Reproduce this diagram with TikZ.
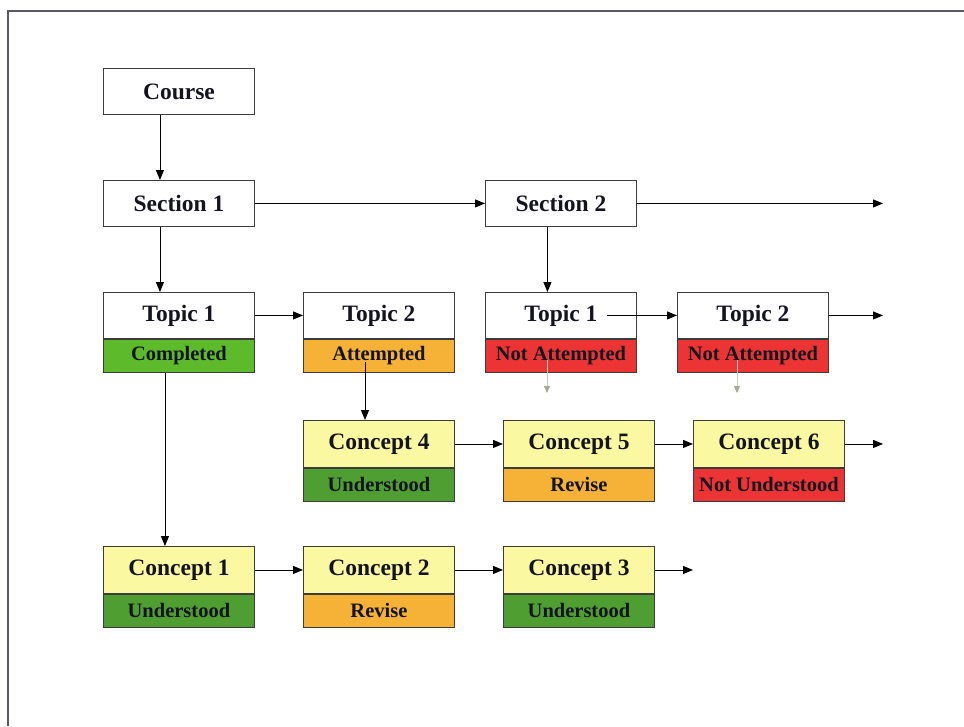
\documentclass[tikz,border=0pt]{standalone}
\usepackage{fontspec}
\setmainfont{Liberation Serif}
\usetikzlibrary{arrows.meta,positioning}
\definecolor{ink}{HTML}{141420}
\definecolor{framegray}{HTML}{5A5A60}
\definecolor{boxline}{HTML}{3C3C3C}
\definecolor{pale}{HTML}{FAF8A0}
\definecolor{okgreen}{HTML}{5DBA2A}
\definecolor{deepgreen}{HTML}{4E9E32}
\definecolor{amber}{HTML}{F5B236}
\definecolor{alert}{HTML}{EC3434}
\definecolor{faint}{HTML}{A4AA96}
\tikzset{
  head/.style={draw=boxline, line width=0.9pt, rectangle, inner sep=0pt,
    minimum width=151pt, minimum height=46pt, anchor=north west,
    font=\fontsize{23.5}{25}\selectfont\bfseries, text=ink},
  concepthead/.style={head, fill=pale, minimum height=47pt},
  status/.style={draw=boxline, line width=0.9pt, rectangle, inner sep=0pt,
    minimum width=151pt, minimum height=33pt, anchor=north west,
    font=\fontsize{20.5}{22}\selectfont\bfseries, text=ink},
  link/.style={draw=black, line width=0.9pt, -{Triangle[length=10pt,width=8pt]}},
  hint/.style={draw=faint!60, line width=0.8pt, -{Triangle[length=7pt,width=6pt,color=faint]}}
}
\begin{document}
\begin{tikzpicture}[x=1pt,y=-1pt]
\useasboundingbox (0,0) rectangle (964,726);
% page frame edges
\draw[framegray, line width=1.6pt] (8,726) -- (8,11) -- (964,11);

% course and sections
\node[head] (course) at (103,68) {Course};
\node[head] (sec1) at (103,180) {Section 1};
\node[head] (sec2) at (485,180) {Section 2};

% topics
\node[head] (t11) at (103,292) {Topic 1};
\node[status, fill=okgreen] (s11) at (t11.south west) {Completed};
\node[head] (t12) at (303,292) {Topic 2};
\node[status, fill=amber] (s12) at (t12.south west) {Attempted};
\node[head] (t21) at (485,292) {Topic 1};
\node[status, fill=alert] (s21) at (t21.south west) {Not Attempted};
\node[head] (t22) at (677,292) {Topic 2};
\node[status, fill=alert] (s22) at (t22.south west) {Not Attempted};

% concepts under topic 2
\node[concepthead] (c4) at (303,420) {Concept 4};
\node[status, fill=deepgreen] (u4) at (c4.south west) {Understood};
\node[concepthead] (c5) at (503,420) {Concept 5};
\node[status, fill=amber] (u5) at (c5.south west) {Revise};
\node[concepthead] (c6) at (693,420) {Concept 6};
\node[status, fill=alert] (u6) at (c6.south west) {Not Understood};

% concepts under topic 1
\node[concepthead] (c1) at (103,546) {Concept 1};
\node[status, fill=deepgreen] (u1) at (c1.south west) {Understood};
\node[concepthead] (c2) at (303,546) {Concept 2};
\node[status, fill=amber] (u2) at (c2.south west) {Revise};
\node[concepthead] (c3) at (503,546) {Concept 3};
\node[status, fill=deepgreen] (u3) at (c3.south west) {Understood};

% open ends (only x matters, rows stay horizontal)
\coordinate (farright) at (883,0);
\coordinate (midright) at (693,0);
\coordinate (t21out) at (607,0);
\coordinate (s12out) at (365,362);
\coordinate (s21out) at (547,360);
\coordinate (s21end) at (547,393);
\coordinate (s22out) at (737,360);
\coordinate (s22end) at (737,393);

% connectors
\draw[link] ([xshift=-19pt]course.south) -- ([xshift=-19pt]sec1.north);
\draw[link] ([xshift=-19pt]sec1.south) -- ([xshift=-19pt]t11.north);
\draw[link] (sec1.east) -- (sec2.west);
\draw[link] (sec2.east) -- (sec2.east -| farright);
\draw[link] ([xshift=-13.5pt]sec2.south) -- ([xshift=-13.5pt]t21.north);
\draw[link] (t11.east) -- (t12.west);
\draw[link] (t22.west -| t21out) -- (t22.west);
\draw[link] (t22.east) -- (t22.east -| farright);
\draw[link] ([xshift=-14pt]s11.south) -- ([xshift=-14pt]c1.north);
\draw[link] (s12out) -- (c4.north -| s12out);
\draw[hint] (s21out) -- (s21end);
\draw[hint] (s22out) -- (s22end);
\draw[link] (c4.east) -- (c5.west);
\draw[link] (c5.east) -- (c6.west);
\draw[link] (c6.east) -- (c6.east -| farright);
\draw[link] (c1.east) -- (c2.west);
\draw[link] (c2.east) -- (c3.west);
\draw[link] (c3.east) -- (c3.east -| midright);
\end{tikzpicture}
\end{document}
